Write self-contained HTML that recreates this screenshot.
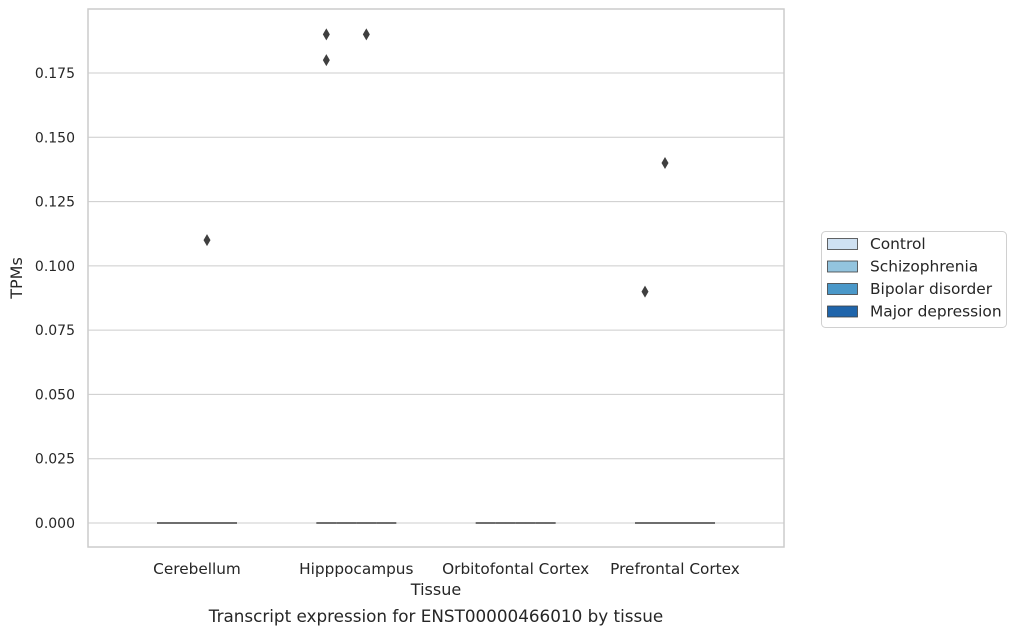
<!DOCTYPE html>
<html><head><meta charset="utf-8"><style>
body{margin:0;background:#fff;font-family:"Liberation Sans","DejaVu Sans",sans-serif;}
svg text{font-family:"DejaVu Sans","Liberation Sans",sans-serif;fill:#262626;}
</style></head><body>
<svg id="chart" width="1017" height="634"></svg>
<script>
const categories=["Cerebellum","Hipppocampus","Orbitofontal Cortex","Prefrontal Cortex"];
const hues=["Control","Schizophrenia","Bipolar disorder","Major depression"];
const colors=["#cfe1f2","#93c4de","#4a98c9","#1f65ab"];
const medians=[[0,0,0,0],[0,0,0,0],[0,0,0,0],[0,0,0,0]];
// outliers: [categoryIndex, hueIndex, value]
const outliers=[[0,2,0.11],[1,0,0.19],[1,0,0.18],[1,2,0.19],[3,1,0.14],[3,0,0.09]];
const yTicks=[0,0.025,0.05,0.075,0.1,0.125,0.15,0.175];
const NS="http://www.w3.org/2000/svg";
const svg=document.getElementById('chart');
const L=88,R=784,T=9,B=547;
function y(v){return 523-v*(450/0.175);}
function xc(i){return 197+i*(675-197)/(categories.length-1);}
function xh(i,h){return xc(i)-30+h*20;}
function mk(t,a,p){const e=document.createElementNS(NS,t);for(const k in a)e.setAttribute(k,a[k]);(p||svg).appendChild(e);return e;}
yTicks.forEach(v=>{
 const g=mk('line',{x1:L,x2:R,y1:y(v),y2:y(v),stroke:'#cccccc','stroke-width':1});
 
 
 const t=mk('text',{x:L-13,y:y(v)+5,'text-anchor':'end','font-size':14});
 t.textContent=v.toFixed(3);
 
 
});
const fr=mk('rect',{x:L,y:T,width:R-L,height:B-T,fill:'none',stroke:'#cccccc','stroke-width':1.5});


categories.forEach((c,i)=>{
 hues.forEach((h,j)=>{
  const l=mk('line',{x1:xh(i,j)-10,x2:xh(i,j)+10,y1:y(medians[i][j]),y2:y(medians[i][j]),stroke:'#3f3f3f','stroke-width':1.6});
  
  
 });
 const t=mk('text',{x:xc(i),y:574,'text-anchor':'middle','font-size':15.3});
 t.textContent=c;
 
 
});
outliers.forEach(o=>{
 const cx=xh(o[0],o[1]),cy=y(o[2]);
 const p=mk('polygon',{points:`${cx},${cy-6} ${cx+3.5},${cy} ${cx},${cy+6} ${cx-3.5},${cy}`,fill:'#3f3f3f'});
 
 
});
let t=mk('text',{x:436,y:595,'text-anchor':'middle','font-size':16});t.textContent='Tissue';


t=mk('text',{x:436,y:622,'text-anchor':'middle','font-size':16.8});t.textContent='Transcript expression for ENST00000466010 by tissue';


t=mk('text',{x:22,y:278,'text-anchor':'middle','font-size':16,transform:'rotate(-90 22 278)'});t.textContent='TPMs';


const lg=mk('g',{});


mk('rect',{x:821.5,y:231.5,width:185,height:96,rx:4,fill:'#fff',stroke:'#d0d0d0'},lg);
hues.forEach((h,j)=>{
 const yy=238+j*22.5;
 const r=mk('rect',{x:827.5,y:yy+0.5,width:30,height:11,fill:colors[j],stroke:'#3f3f3f','stroke-width':0.8},lg);
 
 
 const tt=mk('text',{x:870,y:yy+11,'font-size':15.4},lg);
 tt.textContent=h;
 
 
});
</script>
</body></html>
